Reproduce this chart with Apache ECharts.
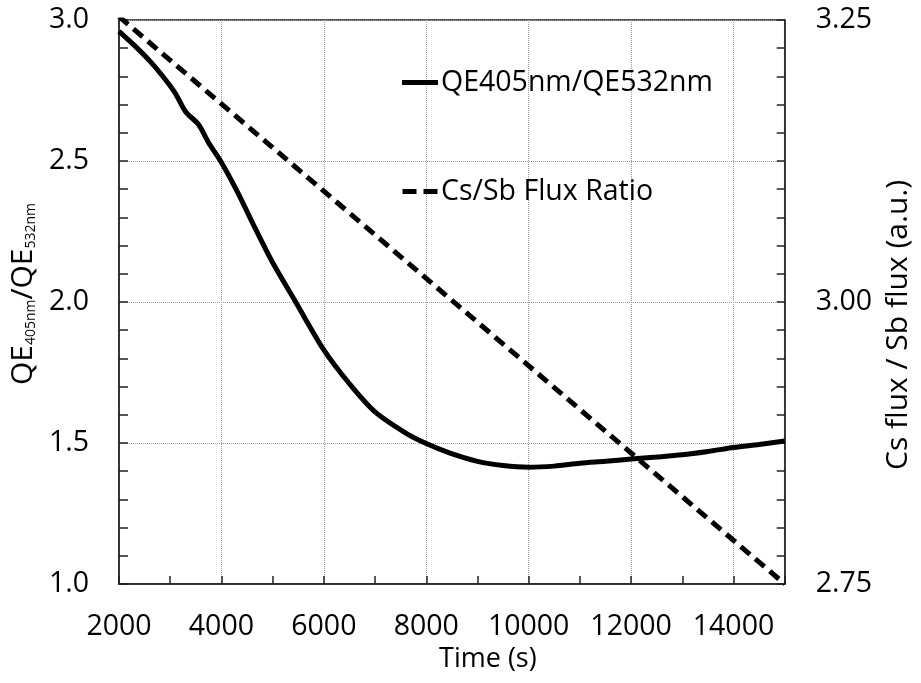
<!DOCTYPE html>
<html>
<head>
<meta charset="utf-8">
<title>QE ratio vs time</title>
<script src="https://cdn.jsdelivr.net/npm/echarts@6/dist/echarts.min.js"></script>
<style>
  html, body { margin: 0; padding: 0; background: #fff; }
  #main { width: 921px; height: 683px; }
</style>
</head>
<body>
<div id="main"></div>
<script>
// QE405/QE532 ratio
var timeS = [2000, 2300, 2600, 2900, 3100, 3300, 3550, 3750, 4000, 4300, 4650, 5000,
             5450, 6000, 6500, 7000, 7600, 8000, 8450, 9000, 9500, 10000, 10500, 11000,
             11500, 12000, 12500, 13000, 13500, 14000, 14500, 15000];
var qeRatio = [2.96, 2.91, 2.855, 2.79, 2.74, 2.675, 2.63, 2.565, 2.495, 2.395, 2.265, 2.14,
               2.00, 1.83, 1.71, 1.61, 1.535, 1.498, 1.465, 1.435, 1.42, 1.414, 1.418, 1.428,
               1.435, 1.443, 1.45, 1.458, 1.47, 1.484, 1.495, 1.507];

// Cs/Sb flux ratio (straight ramp, right axis)
var fluxTime = [2000, 15000];
var fluxRatio = [3.253, 2.75];

var xTicks = [2000, 4000, 6000, 8000, 10000, 12000, 14000];

function pairs(xs, ys) {
    var out = [];
    for (var i = 0; i < xs.length; i++) out.push([xs[i], ys[i]]);
    return out;
}

var fontName = 'Open Sans';
var axisColor = '#222';

var myChart = echarts.init(document.getElementById('main'));
var option = {
    backgroundColor: '#fff',
    animation: false,
    textStyle: {fontFamily: fontName, color: '#000'},
    grid: {
        left: 119,
        right: 134,
        top: 20,
        bottom: 99,
        show: true,
        borderColor: axisColor,
        borderWidth: 1.5
    },
    legend: {
        orient: 'vertical',
        left: 402,
        top: 68,
        padding: 0,
        itemWidth: 36,
        itemHeight: 5,
        itemGap: 80,
        selectedMode: false,
        textStyle: {fontFamily: fontName, fontSize: 28.5, color: '#000', padding: [0, 0, 0, -2]},
        data: [
            {name: 'QE405nm/QE532nm', icon: 'rect'},
            {name: 'Cs/Sb Flux Ratio', icon: 'path://M0,0H14V5H0Z M21,0H35V5H21Z'}
        ]
    },
    xAxis: {
        type: 'value',
        min: 2000,
        max: 15000,
        interval: 2000,
        name: 'Time (s)',
        nameLocation: 'middle',
        nameGap: 52,
        nameTextStyle: {fontFamily: fontName, fontSize: 27, color: '#000', padding: [0, 0, 0, 72]},
        axisLine: {lineStyle: {color: axisColor, width: 1.5}},
        axisTick: {inside: true, length: 8, lineStyle: {color: axisColor, width: 1.5}},
        minorTick: {show: true, splitNumber: 2, length: 8, lineStyle: {color: axisColor, width: 1.5}},
        axisLabel: {
            fontFamily: fontName, fontSize: 28.5, color: '#000', margin: 28,
            showMaxLabel: false,
            formatter: function (v) { return xTicks.indexOf(v) >= 0 ? String(v) : ''; }
        },
        splitLine: {show: true, lineStyle: {color: '#999', type: 'dotted', width: 1}}
    },
    yAxis: [
        {
            type: 'value',
            min: 1.0,
            max: 3.0,
            interval: 0.5,
            position: 'left',
            name: 'QE{sub|405nm}/QE{sub|532nm}',
            nameLocation: 'middle',
            nameGap: 74,
            nameRotate: 90,
            nameTextStyle: {
                fontFamily: fontName, fontSize: 30, color: '#000',
                padding: [0, 0, 0, 16],
                rich: {
                    sub: {fontFamily: fontName, fontSize: 14, color: '#000', verticalAlign: 'bottom', padding: [14, 0, 0, 0]}
                }
            },
            axisLine: {show: true, lineStyle: {color: axisColor, width: 1.5}},
            axisTick: {show: true, inside: true, length: 9, lineStyle: {color: axisColor, width: 1.5}},
            minorTick: {show: true, splitNumber: 5, length: 9, lineStyle: {color: axisColor, width: 1.5}},
            axisLabel: {
                fontFamily: fontName, fontSize: 28.5, color: '#000', margin: 30,
                formatter: function (v) { return v.toFixed(1); }
            },
            splitLine: {show: true, lineStyle: {color: '#999', type: 'dotted', width: 1}}
        },
        {
            type: 'value',
            min: 2.75,
            max: 3.25,
            interval: 0.25,
            position: 'right',
            name: 'Cs flux / Sb flux (a.u.)',
            nameLocation: 'middle',
            nameGap: 98,
            nameRotate: 90,
            nameTextStyle: {fontFamily: fontName, fontSize: 30, color: '#000', padding: [0, 46, 0, 0]},
            axisLine: {show: true, lineStyle: {color: axisColor, width: 1.5}},
            axisTick: {show: true, inside: true, length: 8, lineStyle: {color: axisColor, width: 1.5}},
            minorTick: {show: true, splitNumber: 10, length: 8, lineStyle: {color: axisColor, width: 1.5}},
            axisLabel: {
                fontFamily: fontName, fontSize: 28.5, color: '#000', margin: 31,
                formatter: function (v) { return v.toFixed(2); }
            },
            splitLine: {show: false}
        }
    ],
    series: [
        {
            name: 'QE405nm/QE532nm',
            type: 'line',
            yAxisIndex: 0,
            data: pairs(timeS, qeRatio),
            symbol: 'none',
            smooth: 0.3,
            lineStyle: {color: '#000', width: 5},
            itemStyle: {color: '#000'},
            clip: true
        },
        {
            name: 'Cs/Sb Flux Ratio',
            type: 'line',
            yAxisIndex: 1,
            data: pairs(fluxTime, fluxRatio),
            symbol: 'none',
            lineStyle: {color: '#000', width: 5, type: [12, 7]},
            itemStyle: {color: '#000'},
            clip: true
        }
    ]
};
myChart.setOption(option);
</script>
</body>
</html>
